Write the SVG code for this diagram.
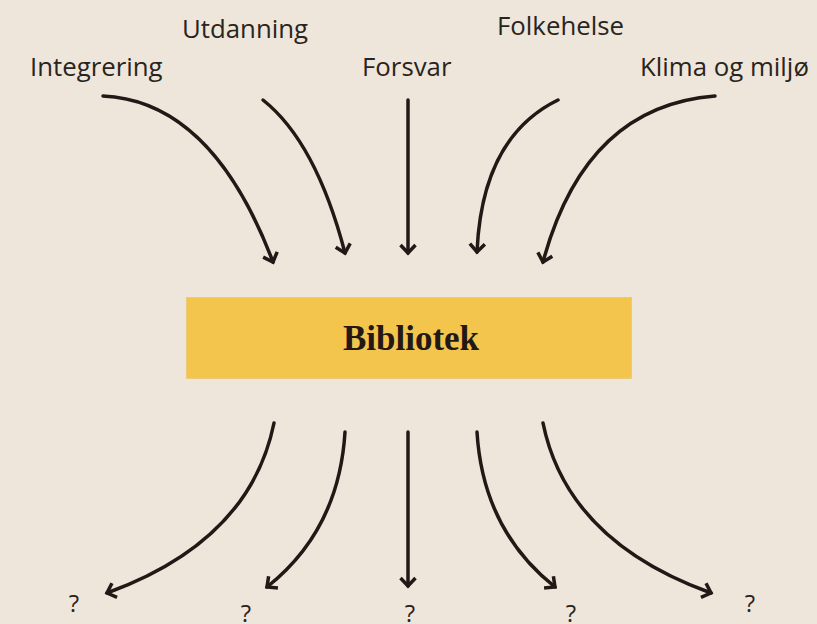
<svg xmlns="http://www.w3.org/2000/svg" width="817" height="624" viewBox="0 0 817 624">
  <defs>
    <style>
      .lbl { font-family: "Open Sans", "Noto Sans", "Liberation Sans", sans-serif; font-size: 25.8px; fill: #2a2420; }
      .q { font-family: "Open Sans", "Noto Sans", "Liberation Sans", sans-serif; font-size: 24px; fill: #2a2420; }
      .title { font-family: "Liberation Serif", "DejaVu Serif", serif; font-size: 35px; font-weight: bold; fill: #231815; }
      .arr { fill: none; stroke: #231815; stroke-width: 3.5; stroke-linecap: round; marker-end: url(#head); }
    </style>
    <marker id="head" markerUnits="userSpaceOnUse" viewBox="0 0 20 20" markerWidth="20" markerHeight="20" refX="11" refY="10" orient="auto" overflow="visible">
      <path d="M3,2.5 L11,10 L3,17.5" fill="none" stroke="#231815" stroke-width="3.5" stroke-linejoin="miter"/>
    </marker>
  </defs>
  <rect width="817" height="624" fill="#EEE6DA"/>

  <g id="connectors">
    <path class="arr" d="M103,96 Q212,101 273,262"/>
    <path class="arr" d="M263,100 Q316,142 345,253"/>
    <path class="arr" d="M408,100 L408,253"/>
    <path class="arr" d="M558,100 Q482,137 477,252"/>
    <path class="arr" d="M715,96 Q585,106 543,262"/>
    <path class="arr" d="M274,423 Q250,541 107,593"/>
    <path class="arr" d="M345,432 Q339,530 267,587"/>
    <path class="arr" d="M408,432 L408,586"/>
    <path class="arr" d="M477,432 Q483,530 555,587"/>
    <path class="arr" d="M543,423 Q567,541 711,593"/>
  </g>

  <g id="integrering"><text class="lbl" x="30" y="76">Integrering</text></g>
  <g id="utdanning"><text class="lbl" x="182" y="38">Utdanning</text></g>
  <g id="forsvar"><text class="lbl" x="362" y="76">Forsvar</text></g>
  <g id="folkehelse"><text class="lbl" x="497" y="35">Folkehelse</text></g>
  <g id="klima"><text class="lbl" x="640" y="76">Klima og miljø</text></g>

  <g id="bibliotek">
    <rect x="186.5" y="297.5" width="445" height="81" fill="#F4C54C" stroke="#EBCB7A" stroke-width="1"/>
    <text class="title" x="411" y="350" text-anchor="middle">Bibliotek</text>
  </g>

  <g id="q1"><text class="q" x="74" y="612" text-anchor="middle">?</text></g>
  <g id="q2"><text class="q" x="246" y="622" text-anchor="middle">?</text></g>
  <g id="q3"><text class="q" x="410" y="622" text-anchor="middle">?</text></g>
  <g id="q4"><text class="q" x="571" y="622" text-anchor="middle">?</text></g>
  <g id="q5"><text class="q" x="750" y="612" text-anchor="middle">?</text></g>
</svg>
